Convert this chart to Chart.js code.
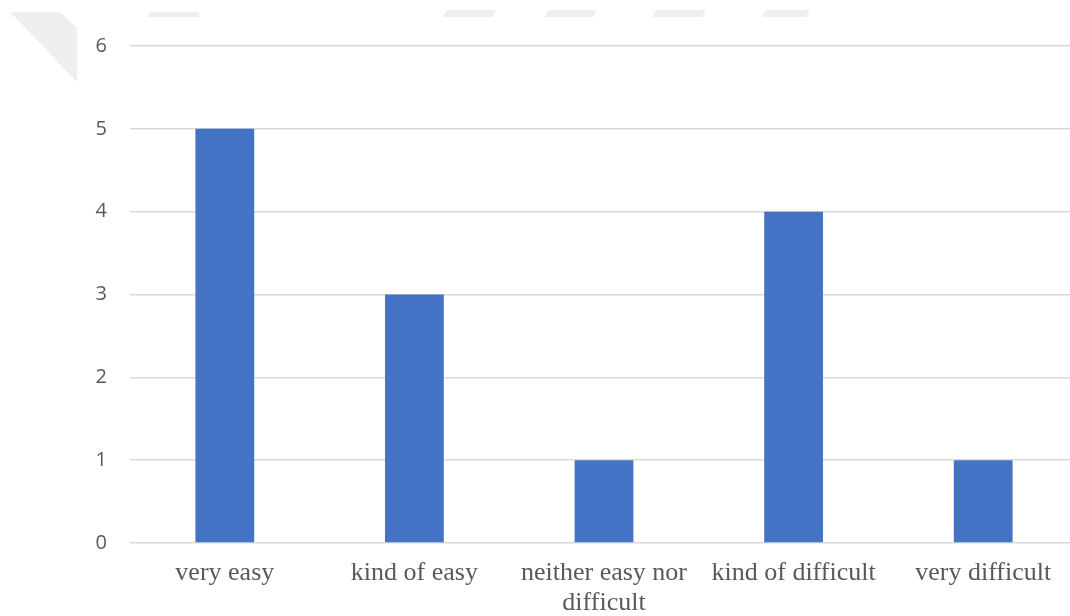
<!DOCTYPE html>
<html>
<head>
<meta charset="utf-8">
<script src="https://cdn.jsdelivr.net/npm/chart.js@4"></script>
<style>
  html, body { margin: 0; padding: 0; background: #ffffff; width: 1070px; height: 616px; overflow: hidden; }
  #wrap { position: relative; width: 1078px; height: 616px; }
</style>
</head>
<body>
<div id="wrap"><canvas id="chart" width="1078" height="616"></canvas></div>
<script>
// Responses per difficulty rating
const categories = ['very easy', 'kind of easy', ['neither easy nor', 'difficult'], 'kind of difficult', 'very difficult'];
const counts = [5, 3, 1, 4, 1];

// Value axis range
const yMin = 0;
const yMax = 6;
const yStep = 1;

const TEXT_GREY = '#595959';
const GRID_GREY = '#d9d9d9';
const BAR_BLUE = '#4472c4';

// Faint grey shapes painted behind the chart
const backdrop = {
  id: 'backdrop',
  beforeDraw(chart) {
    const ctx = chart.ctx;
    ctx.save();
    ctx.fillStyle = '#efefef';
    const shapes = [
      [[10, 12], [60, 12], [77, 28], [77, 82]],
      [[150, 12], [198, 12], [200, 17], [148, 17]],
      [[447, 10], [496, 10], [492, 17], [443, 17]],
      [[548, 10], [597, 10], [593, 17], [545, 17]],
      [[656, 10], [706, 10], [702, 17], [652, 17]],
      [[765, 10], [810, 10], [806, 17], [762, 17]]
    ];
    shapes.forEach(pts => {
      ctx.beginPath();
      ctx.moveTo(pts[0][0], pts[0][1]);
      for (let i = 1; i < pts.length; i++) ctx.lineTo(pts[i][0], pts[i][1]);
      ctx.closePath();
      ctx.fill();
    });
    ctx.restore();
  }
};

new Chart(document.getElementById('chart'), {
  type: 'bar',
  data: {
    labels: categories,
    datasets: [{
      data: counts,
      backgroundColor: BAR_BLUE,
      borderWidth: 0,
      barPercentage: 1,
      categoryPercentage: 0.31
    }]
  },
  options: {
    responsive: false,
    animation: false,
    events: [],
    layout: { padding: { top: 46, right: 0, bottom: 0, left: 0 } },
    plugins: {
      legend: { display: false },
      tooltip: { enabled: false }
    },
    scales: {
      x: {
        grid: { display: false, drawTicks: false },
        border: { display: false },
        ticks: {
          color: TEXT_GREY,
          padding: 16,
          maxRotation: 0,
          autoSkip: false,
          font: { family: '"Liberation Serif", "Times New Roman", serif', size: 26, lineHeight: 1.12 }
        },
        afterFit(scale) { scale.height = 73; }
      },
      y: {
        min: yMin,
        max: yMax,
        grid: { color: GRID_GREY, lineWidth: 1.5, drawTicks: false },
        border: { display: false },
        ticks: {
          stepSize: yStep,
          color: TEXT_GREY,
          padding: 23,
          font: { family: '"Open Sans", "Noto Sans", sans-serif', size: 20 }
        },
        afterFit(scale) { scale.width = 130; }
      }
    }
  },
  plugins: [backdrop]
});
</script>
</body>
</html>
